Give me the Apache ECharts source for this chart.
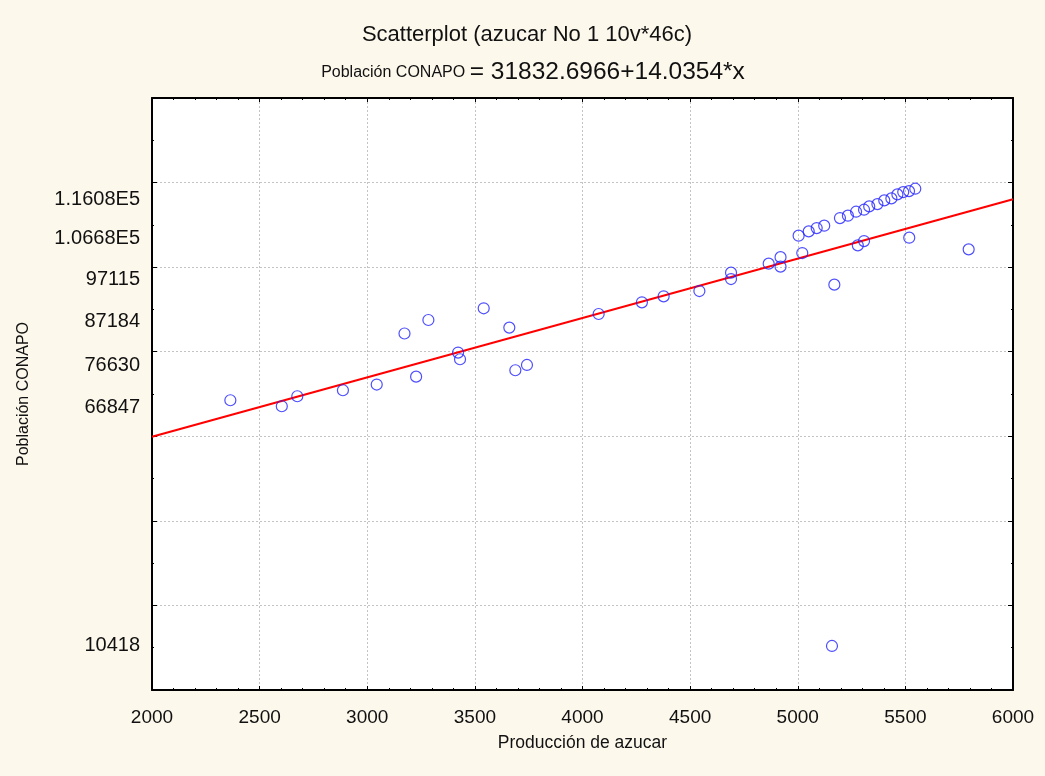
<!DOCTYPE html>
<html>
<head>
<meta charset="utf-8">
<script src="https://cdn.jsdelivr.net/npm/echarts@6/dist/echarts.min.js"></script>
<style>
html,body{margin:0;padding:0;background:#fdf8ec;}
#chart{width:1045px;height:776px;}
</style>
</head>
<body>
<div id="chart"></div>
<script>
// Producción de azucar (x) and Población CONAPO (y)
const produccion = [2364, 2603, 2675, 2887, 3044, 3173, 3227, 3284, 3422, 3431,
  3541, 3660, 3688, 3742, 4075, 4276, 4377, 4543, 4690, 4690,
  4865, 4920, 4920, 5004, 5021, 5051, 5088, 5123, 5159, 5170,
  5196, 5233, 5271, 5279, 5308, 5308, 5332, 5370, 5402, 5435,
  5463, 5490, 5517, 5518, 5546, 5794];
const poblacion = [68526, 67108, 69471, 70888, 72235, 84310, 74102, 87500, 79797, 78214,
  90265, 85704, 75614, 76867, 88918, 91682, 93100, 94352, 98700, 97188,
  100827, 102363, 100118, 107443, 103332, 108459, 109239, 109806, 10418, 95865,
  111602, 112169, 113114, 105151, 113587, 106167, 114367, 114911, 115784, 116257,
  117202, 117746, 117982, 106971, 118549, 104206];
// Regression line endpoints (Población CONAPO = 31832.6966+14.0354*x at x=2000 and x=6000)
const fitX = [2000, 6000];
const fitY = [59903, 116045];
// Y tick labels as printed
const yTickValues = [10418, 66847, 76630, 87184, 97115, 106680, 116080];
const yTickLabels = ['10418', '66847', '76630', '87184', '97115', '1.0668E5', '1.1608E5'];

const FONT = '"Liberation Sans", Arial, sans-serif';
const points = produccion.map((x, i) => [x, poblacion[i]]);
const fitLine = fitX.map((x, i) => [x, fitY[i]]);

const chart = echarts.init(document.getElementById('chart'), null, {renderer: 'canvas'});

const axisLineStyle = {lineStyle: {color: '#000', width: 2}};
const splitLineStyle = {show: true, lineStyle: {color: '#c4c4c4', width: 1, type: [2, 2]}};

const xBase = {
  type: 'value', min: 2000, max: 6000, interval: 500,
  axisLine: Object.assign({show: true, onZero: false}, axisLineStyle),
  axisTick: {show: true, inside: true, length: 4, lineStyle: {color: '#000', width: 1}},
  minorTick: {show: true, splitNumber: 5, length: 2, lineStyle: {color: '#000', width: 1}}
};
const yBase = {
  type: 'value', min: 0, max: 140000, interval: 20000,
  axisLine: Object.assign({show: true, onZero: false}, axisLineStyle),
  axisTick: {show: true, inside: true, length: 5, lineStyle: {color: '#000', width: 1}},
  minorTick: {show: true, splitNumber: 2, length: 2, lineStyle: {color: '#000', width: 1}}
};

chart.setOption({
  backgroundColor: '#fdf8ec',
  animation: false,
  title: [
    {
      text: 'Scatterplot (azucar No 1 10v*46c)',
      left: 522, top: 19, textAlign: 'center',
      textStyle: {fontFamily: FONT, fontSize: 22, fontWeight: 'normal', color: '#111'}
    },
    {
      text: '{a|Población CONAPO }{b|= 31832.6966+14.0354*x}',
      left: 528, top: 55, textAlign: 'center',
      textStyle: {
        fontFamily: FONT, fontWeight: 'normal', color: '#111',
        rich: {
          a: {fontFamily: FONT, fontSize: 16, color: '#111'},
          b: {fontFamily: FONT, fontSize: 24.5, color: '#111'}
        }
      }
    }
  ],
  grid: {
    left: 152, right: 32, top: 98, bottom: 86,
    show: true, backgroundColor: '#ffffff', borderWidth: 0
  },
  xAxis: [
    Object.assign({}, xBase, {
      position: 'bottom',
      splitLine: splitLineStyle,
      axisLabel: {
        show: true, margin: 18, fontFamily: FONT, fontSize: 19, color: '#111',
        formatter: function (v) { return String(v); }
      },
      name: 'Producción de azucar', nameLocation: 'middle', nameGap: 44,
      nameTextStyle: {fontFamily: FONT, fontSize: 17.5, color: '#111'}
    }),
    Object.assign({}, xBase, {
      position: 'top',
      splitLine: {show: false},
      axisLabel: {show: false}
    })
  ],
  yAxis: [
    Object.assign({}, yBase, {
      position: 'left',
      splitLine: splitLineStyle,
      axisLabel: {
        show: true, margin: 12, fontFamily: FONT, fontSize: 20, color: '#111',
        customValues: yTickValues,
        formatter: function (v) {
          const idx = yTickValues.indexOf(v);
          return idx >= 0 ? yTickLabels[idx] : '';
        }
      },
      name: 'Población CONAPO', nameLocation: 'middle', nameGap: 120, nameRotate: 90,
      nameTextStyle: {fontFamily: FONT, fontSize: 16, color: '#111'}
    }),
    Object.assign({}, yBase, {
      position: 'right',
      splitLine: {show: false},
      axisLabel: {show: false}
    })
  ],
  series: [
    {
      type: 'line',
      xAxisIndex: 0, yAxisIndex: 0,
      data: fitLine,
      showSymbol: false, symbol: 'none',
      lineStyle: {color: '#ff0000', width: 2},
      z: 3, silent: true
    },
    {
      type: 'scatter',
      xAxisIndex: 0, yAxisIndex: 0,
      data: points,
      symbol: 'circle', symbolSize: 11,
      itemStyle: {color: 'rgba(0,0,0,0)', borderColor: '#2222ff', borderWidth: 1.2},
      z: 4
    }
  ]
});
</script>
</body>
</html>
